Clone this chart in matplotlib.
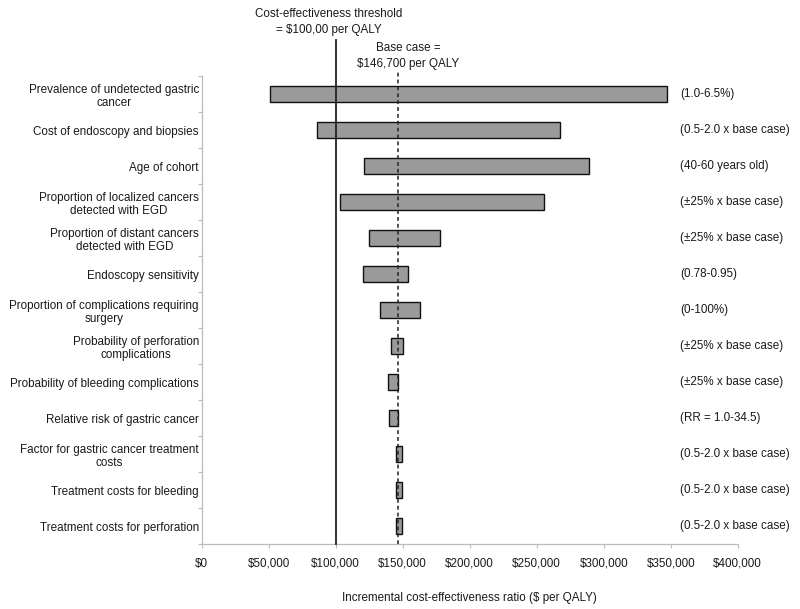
import matplotlib
matplotlib.use("Agg")
import matplotlib.pyplot as plt
from matplotlib.ticker import FuncFormatter, FixedLocator

plt.rcParams['font.family'] = ['Liberation Sans', 'DejaVu Sans']

categories = [
    "Prevalence of undetected gastric\ncancer",
    "Cost of endoscopy and biopsies",
    "Age of cohort",
    "Proportion of localized cancers\ndetected with EGD",
    "Proportion of distant cancers\ndetected with EGD",
    "Endoscopy sensitivity",
    "Proportion of complications requiring\nsurgery",
    "Probability of perforation\ncomplications",
    "Probability of bleeding complications",
    "Relative risk of gastric cancer",
    "Factor for gastric cancer treatment\ncosts",
    "Treatment costs for bleeding",
    "Treatment costs for perforation",
]
low_values = [50700, 86000, 121300, 103200, 125000, 120100, 133300, 141000, 138800, 139500, 145000, 145000, 145000]
high_values = [347500, 267600, 288800, 255400, 177600, 154200, 163100, 150000, 146700, 146700, 149700, 149700, 149500]
ranges = [
    "(1.0-6.5%)",
    "(0.5-2.0 x base case)",
    "(40-60 years old)",
    "(±25% x base case)",
    "(±25% x base case)",
    "(0.78-0.95)",
    "(0-100%)",
    "(±25% x base case)",
    "(±25% x base case)",
    "(RR = 1.0-34.5)",
    "(0.5-2.0 x base case)",
    "(0.5-2.0 x base case)",
    "(0.5-2.0 x base case)",
]
threshold = 100000
base_case = 146700
x_ticks = [0, 50000, 100000, 150000, 200000, 250000, 300000, 350000, 400000]

TXT = '#1a1a1a'
FS = 8.4

fig = plt.figure(figsize=(8.0, 6.09), dpi=100)
ax = fig.add_axes([0.2521, 0.1067, 0.670, 0.7685])

ypos = list(range(len(categories)))
widths = [h - l for l, h in zip(low_values, high_values)]
ax.barh(ypos, widths, left=low_values, height=0.42, color='#9a9a9a',
        edgecolor='#111111', linewidth=1.0, zorder=2)

ax.set_xlim(0, 400000)
ax.set_ylim(len(categories) - 0.5, -0.5)

# reference lines extending above the axes
ax.plot([threshold, threshold], [len(categories) - 0.5, -1.5], color='#222222',
        linewidth=1.3, zorder=3, clip_on=False)
ax.plot([base_case, base_case], [len(categories) - 0.5, -0.65], color='#222222',
        linewidth=1.1, linestyle=(0, (2.5, 2)), zorder=3, clip_on=False)

ax.text(threshold - 5000, -2.0, "Cost-effectiveness threshold\n= $100,00 per QALY",
        ha='center', va='center', fontsize=FS, color=TXT, multialignment='center',
        linespacing=1.35)
ax.text(threshold + 54000, -1.05, "Base case =\n$146,700 per QALY",
        ha='center', va='center', fontsize=FS, color=TXT, multialignment='center',
        linespacing=1.4)

# right-side range annotations
for y, r in zip(ypos, ranges):
    ax.text(357000, y, r, ha='left', va='center', fontsize=FS, color=TXT, clip_on=False)

# y-axis
ax.set_yticks(ypos)
ax.set_yticklabels(categories, fontsize=FS, color=TXT, multialignment='center',
                   linespacing=1.2)
ax.tick_params(axis='y', which='major', length=0, pad=2)
ax.yaxis.set_minor_locator(FixedLocator([i - 0.5 for i in range(len(categories) + 1)]))
ax.tick_params(axis='y', which='minor', length=3, color='#bbbbbb', width=0.8)

# x-axis
ax.set_xticks(x_ticks)
ax.xaxis.set_major_formatter(FuncFormatter(lambda v, p: f"${int(v):,}"))
ax.tick_params(axis='x', length=3, color='#bbbbbb', width=0.8, labelsize=FS,
               labelcolor=TXT, pad=7)
ax.set_xlabel("Incremental cost-effectiveness ratio ($ per QALY)", fontsize=FS,
              color=TXT, labelpad=16)

for s in ['top', 'right']:
    ax.spines[s].set_visible(False)
for s in ['left', 'bottom']:
    ax.spines[s].set_color('#bbbbbb')
    ax.spines[s].set_linewidth(0.9)

fig.savefig("out.png", dpi=100, facecolor='white')
